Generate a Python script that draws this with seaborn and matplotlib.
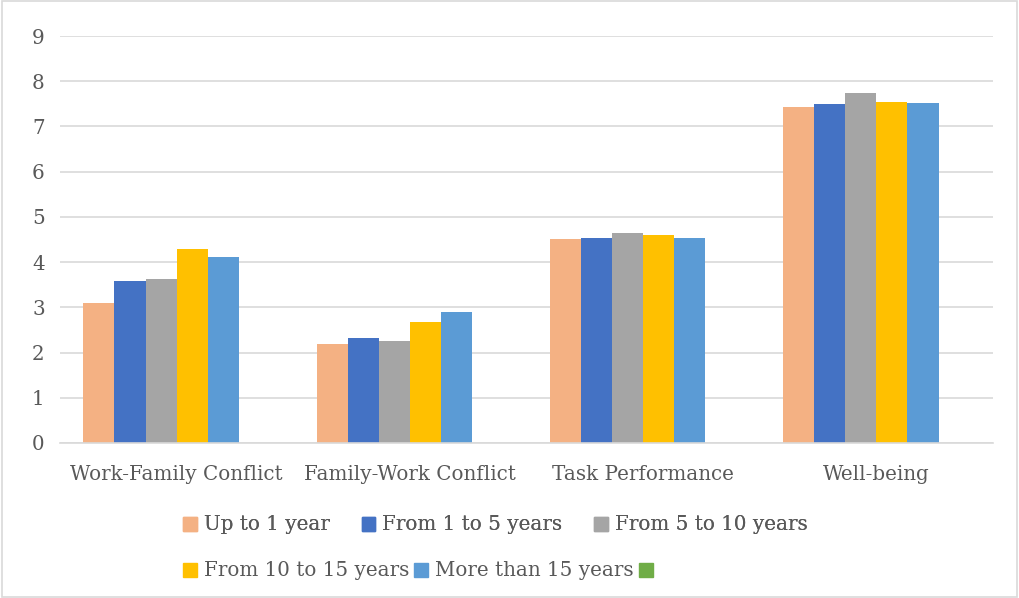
import pandas as pd
import matplotlib.pyplot as plt
import seaborn as sns
from matplotlib.patches import Rectangle

categories = ['Work-Family Conflict', 'Family-Work Conflict', 'Task Performance', 'Well-being']
groups = ['Up to 1 year', 'From 1 to 5 years', 'From 5 to 10 years',
          'From 10 to 15 years', 'More than 15 years', '']
up_to_1 = [3.10, 2.19, 4.51, 7.44]
from_1_to_5 = [3.59, 2.32, 4.53, 7.50]
from_5_to_10 = [3.62, 2.25, 4.64, 7.74]
from_10_to_15 = [4.29, 2.68, 4.59, 7.55]
more_than_15 = [4.12, 2.89, 4.53, 7.52]
empty_series = [0, 0, 0, 0]
colors = ['#F4B183', '#4472C4', '#A5A5A5', '#FFC000', '#5B9BD5', '#70AD47']

series = [up_to_1, from_1_to_5, from_5_to_10, from_10_to_15, more_than_15, empty_series]
rows = []
for g, vals in zip(groups, series):
    for c, v in zip(categories, vals):
        rows.append({'category': c, 'group': g, 'value': v})
df = pd.DataFrame(rows)

sns.set_style('white')
plt.rcParams['font.family'] = ['DejaVu Serif']
text_color = '#595959'
fs = 14.3

fig = plt.figure(figsize=(10.19, 5.98), dpi=100)
ax = fig.add_axes([60 / 1019, 155 / 598, 933 / 1019, 407 / 598])
sns.barplot(data=df, x='category', y='value', hue='group', hue_order=groups,
            order=categories, palette=colors, width=0.8, ax=ax, legend=False,
            saturation=1, linewidth=0)

ax.set_ylim(0, 9)
ax.set_yticks(range(10))
ax.yaxis.grid(True, color='#D9D9D9', linewidth=1.2)
ax.set_axisbelow(True)
for s in ['top', 'right', 'left']:
    ax.spines[s].set_visible(False)
ax.spines['bottom'].set_color('#D9D9D9')
ax.spines['bottom'].set_linewidth(1.2)
ax.set_xlabel('')
ax.set_ylabel('')
ax.tick_params(axis='both', length=0, colors=text_color, labelsize=fs)
ax.tick_params(axis='x', pad=16)
ax.tick_params(axis='y', pad=11)

handles = [Rectangle((0, 0), 1, 1, color=c) for c in colors]
common = dict(loc='center left', frameon=False, fontsize=fs, handlelength=0.7,
              handleheight=0.7, handletextpad=0.35, borderaxespad=0, borderpad=0,
              labelcolor=text_color, ncol=3)
leg1 = fig.legend(handles[:3], groups[:3], bbox_to_anchor=(183 / 1019, 73 / 598),
                  columnspacing=1.6, **common)
fig.add_artist(leg1)
fig.legend(handles[3:], groups[3:], bbox_to_anchor=(183 / 1019, 27 / 598),
           columnspacing=0.25, **common)

fig.patches.append(Rectangle((0.002, 0.002), 0.996, 0.996, transform=fig.transFigure,
                             fill=False, edgecolor='#D9D9D9', linewidth=1.2))

fig.savefig('out.png', dpi=100)
